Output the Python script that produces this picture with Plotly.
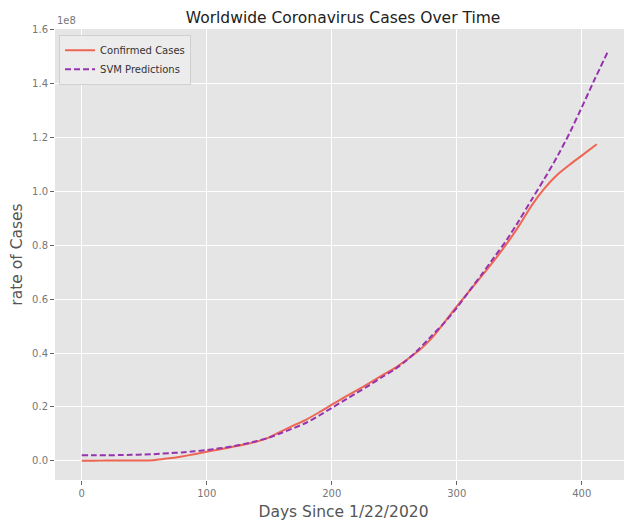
import plotly.graph_objects as go

# Confirmed cases (millions) by days since 1/22/2020
confirmed_days = [0, 10, 20, 30, 40, 50, 57, 60, 70, 80, 90, 100, 110, 120, 130, 140, 150,
                  160, 170, 180, 190, 200, 210, 220, 230, 240, 250, 260, 270, 280, 290,
                  300, 310, 320, 330, 340, 350, 360, 370, 380, 390, 400, 412]
confirmed_millions = [0.0, 0.01, 0.08, 0.08, 0.09, 0.1, 0.2, 0.4, 0.9, 1.6, 2.4, 3.3, 4.2, 5.1,
                      6.0, 7.1, 8.7, 11.0, 13.2, 15.4, 18.0, 20.8, 23.5, 26.1, 28.8, 31.6,
                      34.3, 37.5, 41.0, 45.5, 51.3, 57.3, 63.0, 68.6, 74.4, 80.6, 87.4,
                      94.8, 101.0, 106.0, 109.8, 113.3, 117.5]

# SVM predictions (millions)
svm_days = [0, 10, 20, 30, 40, 50, 60, 70, 80, 90, 100, 110, 120, 130, 140, 150, 160, 170,
            180, 190, 200, 210, 220, 230, 240, 250, 260, 270, 280, 290, 300, 310, 320, 330,
            340, 350, 360, 370, 380, 390, 400, 410, 421]
svm_millions = [2.0, 2.0, 2.0, 2.1, 2.2, 2.3, 2.5, 2.8, 3.1, 3.5, 4.0, 4.6, 5.3, 6.2, 7.3,
                8.6, 10.4, 12.2, 14.2, 16.8, 19.6, 22.4, 25.2, 28.0, 31.0, 33.8, 37.3,
                41.6, 46.4, 51.2, 56.8, 63.0, 69.2, 75.6, 82.0, 89.3, 97.0, 104.6, 112.6,
                121.4, 131.2, 141.3, 152.0]

y_tick_vals = [0.0, 0.2, 0.4, 0.6, 0.8, 1.0, 1.2, 1.4, 1.6]
y_tick_text = ["0.0", "0.2", "0.4", "0.6", "0.8", "1.0", "1.2", "1.4", "1.6"]
x_tick_vals = [0, 100, 200, 300, 400]

fig = go.Figure()
fig.add_trace(go.Scatter(
    x=confirmed_days, y=[v * 1e6 for v in confirmed_millions],
    mode="lines", name="Confirmed Cases",
    line=dict(color="#EE6653", width=2, shape="spline", smoothing=0.6),
))
fig.add_trace(go.Scatter(
    x=svm_days, y=[v * 1e6 for v in svm_millions],
    mode="lines", name="SVM Predictions",
    line=dict(color="#9733AE", width=2, dash="6px,3px", shape="spline", smoothing=0.6),
))

FONT = "DejaVu Sans"
fig.update_layout(
    width=624, height=514,
    margin=dict(l=47, r=0, t=21, b=42, autoexpand=False),
    paper_bgcolor="white",
    plot_bgcolor="#E5E5E5",
    font=dict(family=FONT, color="#555555"),
    title=dict(text="Worldwide Coronavirus Cases Over Time",
               font=dict(family=FONT, size=15.5, color="#222222"),
               x=0.537, xanchor="center", y=0.981, yanchor="middle"),
    showlegend=True,
    legend=dict(x=0.007, y=0.987, xanchor="left", yanchor="top",
                bgcolor="rgba(236,236,236,0.9)", bordercolor="#D0D0D0", borderwidth=1,
                font=dict(family=FONT, size=10, color="#333333"),
                tracegroupgap=0, itemwidth=30),
    xaxis=dict(range=[-21.4, 440.2], tickvals=x_tick_vals, automargin=False,
               showgrid=True, gridcolor="white", gridwidth=1.2, zeroline=False,
               ticks="outside", ticklen=4, tickcolor="#666666",
               tickfont=dict(family=FONT, size=10, color="#777777"),
               title=dict(text="Days Since 1/22/2020", standoff=8,
                          font=dict(family=FONT, size=15.5, color="#555555")),
               showline=False),
    yaxis=dict(range=[-0.0715e8, 1.603e8], automargin=False,
               tickvals=[v * 1e8 for v in y_tick_vals], ticktext=y_tick_text,
               showgrid=True, gridcolor="white", gridwidth=1.2, zeroline=False,
               ticks="outside", ticklen=4, tickcolor="#666666",
               tickfont=dict(family=FONT, size=10, color="#777777"),
               title=dict(text="rate of Cases", standoff=8,
                          font=dict(family=FONT, size=15.5, color="#555555")),
               showline=False),
    annotations=[dict(text="1e8", xref="paper", yref="paper", x=0, y=1,
                      xanchor="left", yanchor="bottom", yshift=1, showarrow=False,
                      font=dict(family=FONT, size=10, color="#777777"))],
)

fig.write_html("out.html")
